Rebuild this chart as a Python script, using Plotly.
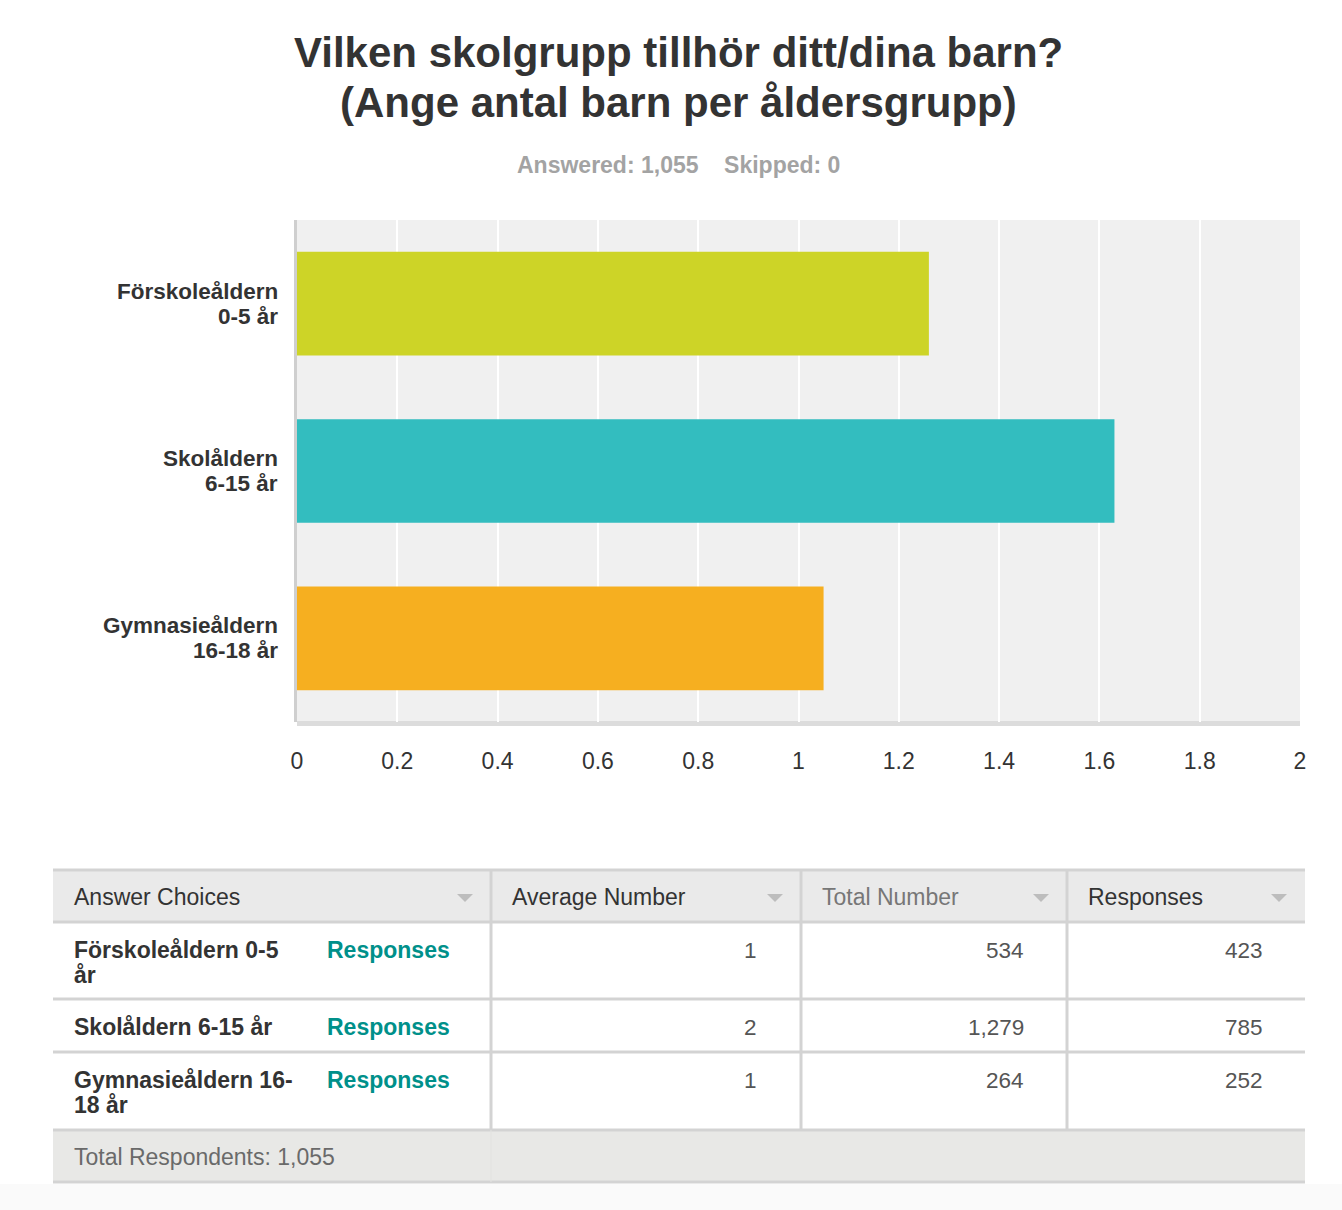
import plotly.graph_objects as go

W, H = 1342, 1210

# ---------------- data ----------------
categories = ["Förskoleåldern 0-5 år", "Skolåldern 6-15 år", "Gymnasieåldern 16-18 år"]
axis_label_lines = [["Förskoleåldern", "0-5 år"], ["Skolåldern", "6-15 år"], ["Gymnasieåldern", "16-18 år"]]
avg_values = [1.26, 1.63, 1.05]
bar_colors = ["#CDD427", "#33BDBF", "#F6AF20"]
x_ticks = [0, 0.2, 0.4, 0.6, 0.8, 1, 1.2, 1.4, 1.6, 1.8, 2]

table_headers = ["Answer Choices", "Average Number", "Total Number", "Responses"]
table_label_lines = [["Förskoleåldern 0-5", "år"], ["Skolåldern 6-15 år"], ["Gymnasieåldern 16-", "18 år"]]
avg_number = ["1", "2", "1"]
total_number = ["534", "1,279", "264"]
responses = ["423", "785", "252"]
total_respondents = "1,055"
answered, skipped = "1,055", "0"
title_lines = ["Vilken skolgrupp tillhör ditt/dina barn?", "(Ange antal barn per åldersgrupp)"]

FONT = "Liberation Sans, Arial, sans-serif"

# observed rendering: figure drawn 6px in from the left, 1330px wide
X_OFF, X_W = 6, 1330


def px(x):
    return (x - X_OFF) / X_W


def py(y):
    return 1 - y / H


fig = go.Figure()
fig.add_trace(go.Bar(
    x=avg_values, y=categories, orientation="h",
    marker=dict(color=bar_colors, line=dict(width=0)),
    width=0.62, hoverinfo="x+y",
))

shapes = []
annotations = []

# plot bottom shadow strip
shapes.append(dict(type="rect", xref="paper", yref="paper", x0=px(297), x1=px(1300),
                   y0=py(726), y1=py(721), fillcolor="#dcdcdc", line=dict(width=0), layer="below"))

# category labels (bold, two lines), anchored to the category axis
for cat, lines in zip(categories, axis_label_lines):
    n = len(lines)
    for k, ln in enumerate(lines):
        annotations.append(dict(text=f"<b>{ln}</b>", x=px(280), y=cat, xref="paper", yref="y",
                                yshift=-(k - (n - 1) / 2) * 25, showarrow=False,
                                xanchor="right", yanchor="middle",
                                font=dict(family=FONT, size=22.5, color="#333333")))

# title & subtitle
for k, ln in enumerate(title_lines):
    annotations.append(dict(text=f"<b>{ln}</b>", x=px(679), y=py(52 + 50 * k), xref="paper", yref="paper",
                            showarrow=False, xanchor="center", yanchor="middle",
                            font=dict(family=FONT, size=42, color="#333333")))
annotations.append(dict(text=f"<b>Answered: {answered}&nbsp;&nbsp;&nbsp;&nbsp;Skipped: {skipped}</b>",
                        x=px(678), y=py(165), xref="paper", yref="paper", showarrow=False,
                        xanchor="center", yanchor="middle",
                        font=dict(family=FONT, size=23, color="#a3a3a3")))

# ---------------- table ----------------
col_x = [53, 491, 801, 1067, 1305]
row_y = [870, 922, 999, 1052, 1130, 1182]
LINE = "#d3d3d3"
TF = 23

# page bottom tint
shapes.append(dict(type="rect", xref="paper", yref="paper", x0=-0.1, x1=1.1,
                   y0=-0.05, y1=py(1184), fillcolor="#fafafa", line=dict(width=0), layer="below"))
# backgrounds
shapes.append(dict(type="rect", xref="paper", yref="paper", x0=px(col_x[0]), x1=px(col_x[-1]),
                   y0=py(row_y[0]), y1=py(row_y[1]), fillcolor="#eaeaea", line=dict(width=0), layer="below"))
shapes.append(dict(type="rect", xref="paper", yref="paper", x0=px(col_x[0]), x1=px(col_x[-1]),
                   y0=py(row_y[4]), y1=py(row_y[5]), fillcolor="#e8e8e6", line=dict(width=0), layer="below"))
# horizontal lines
for yy in row_y:
    shapes.append(dict(type="line", xref="paper", yref="paper", x0=px(col_x[0]), x1=px(col_x[-1]),
                       y0=py(yy), y1=py(yy), line=dict(color=LINE, width=3)))
# vertical lines
for xx in col_x[1:-1]:
    shapes.append(dict(type="line", xref="paper", yref="paper", x0=px(xx), x1=px(xx),
                       y0=py(row_y[0]), y1=py(row_y[4]), line=dict(color=LINE, width=3)))
shapes.append(dict(type="line", xref="paper", yref="paper", x0=px(col_x[1]), x1=px(col_x[1]),
                   y0=py(row_y[4]), y1=py(row_y[5]), line=dict(color="#e2e2e0", width=1)))

# header texts + sort triangles
header_colors = ["#333333", "#333333", "#777777", "#333333"]
for i, h in enumerate(table_headers):
    annotations.append(dict(text=h, x=px(col_x[i] + 19), y=py(897), xref="paper", yref="paper",
                            showarrow=False, xanchor="left", yanchor="middle",
                            font=dict(family=FONT, size=TF, color=header_colors[i])))
    tx = col_x[i + 1] - 26
    shapes.append(dict(type="path", xref="paper", yref="paper",
                       path=f"M {px(tx-8)} {py(894)} L {px(tx+8)} {py(894)} L {px(tx)} {py(902)} Z",
                       fillcolor="#bdbdbd", line=dict(width=0)))

# rows
for r in range(3):
    top = row_y[r + 1]
    for k, ln in enumerate(table_label_lines[r]):
        annotations.append(dict(text=f"<b>{ln}</b>", x=px(72), y=py(top + 28 + 25 * k),
                                xref="paper", yref="paper", showarrow=False, xanchor="left", yanchor="middle",
                                font=dict(family=FONT, size=TF, color="#333333")))
    annotations.append(dict(text="<b>Responses</b>", x=px(325), y=py(top + 28),
                            xref="paper", yref="paper", showarrow=False, xanchor="left", yanchor="middle",
                            font=dict(family=FONT, size=TF, color="#00908a")))
    for val, xr in zip([avg_number[r], total_number[r], responses[r]], [759, 1026, 1265]):
        annotations.append(dict(text=val, x=px(xr), y=py(top + 28), xref="paper", yref="paper",
                                showarrow=False, xanchor="right", yanchor="middle",
                                font=dict(family=FONT, size=22.5, color="#555555")))

annotations.append(dict(text=f"Total Respondents: {total_respondents}", x=px(72), y=py(1157),
                        xref="paper", yref="paper", showarrow=False, xanchor="left", yanchor="middle",
                        font=dict(family=FONT, size=TF, color="#6a6a6a")))

fig.update_layout(
    width=W, height=H,
    margin=dict(l=0, r=0, t=0, b=0),
    paper_bgcolor="white",
    plot_bgcolor="#f0f0f0",
    showlegend=False,
    shapes=shapes,
    annotations=annotations,
    xaxis=dict(domain=[px(297), px(1300)], range=[0, 2], tickvals=x_ticks,
               ticktext=[f"{t:g}" for t in x_ticks],
               showgrid=True, gridcolor="#ffffff", gridwidth=2, zeroline=False,
               showline=False, ticks="outside", ticklen=18, tickcolor="rgba(0,0,0,0)",
               tickfont=dict(family=FONT, size=23, color="#333333"), fixedrange=True),
    yaxis=dict(domain=[py(722), py(220)], autorange="reversed",
               showgrid=False, zeroline=False, showline=True, linecolor="#cfcfcf", linewidth=3,
               ticks="", showticklabels=False, fixedrange=True),
)

fig.write_html("out.html", config={"displayModeBar": False},
               post_script="document.body.style.margin='0px';")
